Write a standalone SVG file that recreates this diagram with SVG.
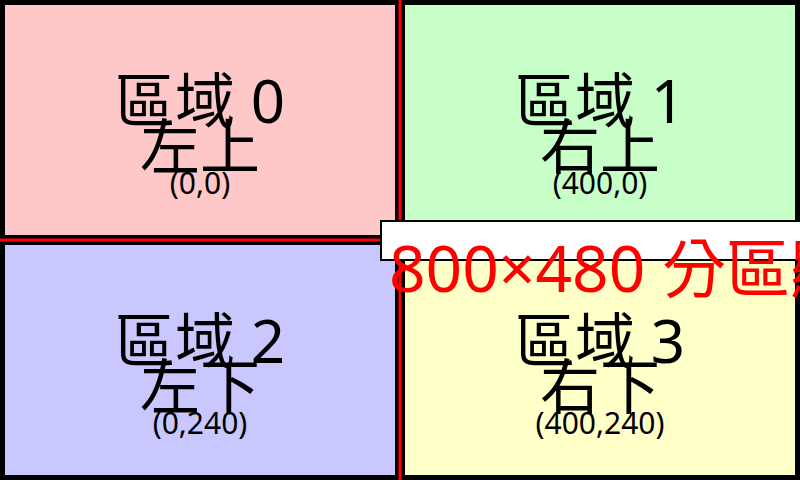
<svg xmlns="http://www.w3.org/2000/svg" width="800" height="480" viewBox="0 0 800 480">
<style>
.q{stroke:#000;stroke-width:10}
.lbl{font-family:"Noto Sans","Noto Sans CJK TC",sans-serif;font-size:60px;fill:#000;text-anchor:middle}
.sm{font-family:"Noto Sans","Noto Sans CJK TC",sans-serif;font-size:30px;fill:#000;text-anchor:middle}
.div{stroke:#ff0000;stroke-width:3}
</style>
<g id="q0"><rect class="q" x="0" y="0" width="400" height="240" fill="#ffc8c8"/></g>
<g id="q1"><rect class="q" x="400" y="0" width="400" height="240" fill="#c8ffc8"/></g>
<g id="q2"><rect class="q" x="0" y="240" width="400" height="240" fill="#c8c8ff"/></g>
<g id="q3"><rect class="q" x="400" y="240" width="400" height="240" fill="#ffffc8"/></g>
<g id="dividers">
<line class="div" x1="400" y1="0" x2="400" y2="480"/>
<line class="div" x1="0" y1="240" x2="800" y2="240"/>
</g>
<g id="t0"><text class="lbl" x="200" y="123">區域 0</text><text class="lbl" x="200" y="169">左上</text><text class="sm" x="200" y="194">(0,0)</text></g>
<g id="t1"><text class="lbl" x="600" y="123">區域 1</text><text class="lbl" x="600" y="169">右上</text><text class="sm" x="600" y="194">(400,0)</text></g>
<g id="t2"><text class="lbl" x="200" y="363">區域 2</text><text class="lbl" x="200" y="409">左下</text><text class="sm" x="200" y="434">(0,240)</text></g>
<g id="t3"><text class="lbl" x="600" y="363">區域 3</text><text class="lbl" x="600" y="409">右下</text><text class="sm" x="600" y="434">(400,240)</text></g>
<g id="title">
<rect x="381" y="221" width="440" height="39" fill="#fff" stroke="#000" stroke-width="2"/>
<text x="389" y="292" font-family="Noto Sans,Noto Sans CJK TC,sans-serif" font-size="64" fill="#ff0000">800×480 分區顯示</text>
</g>
</svg>
